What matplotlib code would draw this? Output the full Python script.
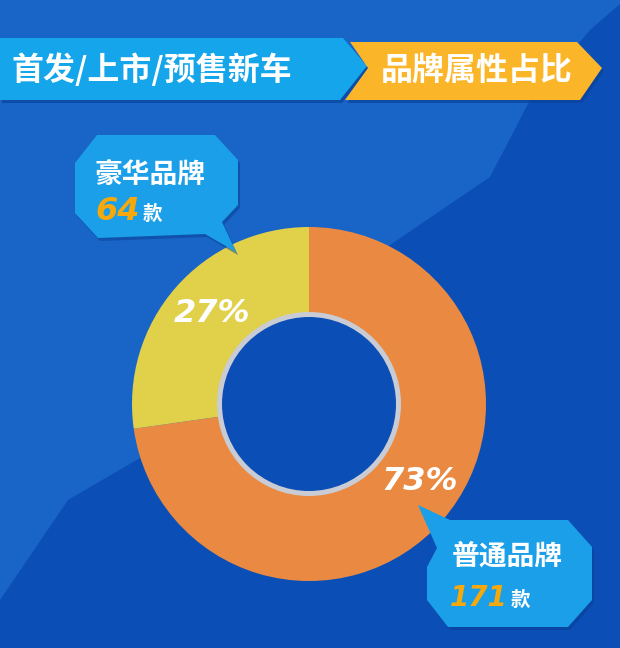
import matplotlib
matplotlib.use("Agg")
import matplotlib.pyplot as plt
from matplotlib.patches import Polygon, Circle

# ---- data ----
categories = ["普通品牌", "豪华品牌"]
counts = [171, 64]
pct_labels = ["73%", "27%"]
title_left = "首发/上市/预售新车"
title_right = "品牌属性占比"
unit = "款"

colors = ["#ea8a42", "#e0d04a"]
CJK = ["Noto Sans CJK SC", "DejaVu Sans"]

fig = plt.figure(figsize=(6.2, 6.48), dpi=100)
fig.patch.set_facecolor("#0b4fb6")
ax = fig.add_axes([0, 0, 1, 1])
ax.set_facecolor("#0b4fb6")

# background lighter region
bg = [(0, 0), (620, 0), (620, 4), (590, 30), (530, 100), (490, 177), (390, 245),
      (250, 340), (140, 458), (68, 500), (0, 600)]
ax.add_patch(Polygon(bg, closed=True, fc="#1964c7", ec="none", zorder=0))

# ---- title banner ----
blue_banner = [(0, 38), (343, 38), (367, 66), (340, 100), (0, 100)]
orange_banner = [(350, 42), (577, 42), (602, 68), (580, 100), (345, 100), (368, 68)]
for poly, fc in [(blue_banner, "#14a5ea"), (orange_banner, "#fbb528")]:
    sh = [(x + 2, y + 3) for x, y in poly]
    ax.add_patch(Polygon(sh, closed=True, fc="#083f93", ec="none", alpha=0.6, zorder=1))
    ax.add_patch(Polygon(poly, closed=True, fc=fc, ec="none", zorder=2))
ax.text(152, 70, title_left, family=CJK, fontsize=23, fontweight="heavy",
        color="white", ha="center", va="center", zorder=3)
ax.text(477, 71, title_right, family=CJK, fontsize=23, fontweight="heavy",
        color="white", ha="center", va="center", zorder=3)

# ---- donut ----
cx, cy, R = 309, 404, 177
ax.pie(counts, colors=colors, startangle=270, counterclock=True,
       center=(cx, cy), radius=R, wedgeprops=dict(linewidth=0), frame=True)
ax.add_patch(Circle((cx, cy), 92, fc="#c9ccd4", ec="none", zorder=5))
ax.add_patch(Circle((cx, cy), 87, fc="#0b4fb6", ec="none", zorder=6))

ax.text(212, 314, pct_labels[1], fontsize=23, fontweight="bold", style="italic",
        color="white", ha="center", va="center", zorder=7)
ax.text(420, 481, pct_labels[0], fontsize=23, fontweight="bold", style="italic",
        color="white", ha="center", va="center", zorder=7)

# ---- callouts ----
call1 = [(97, 135), (215, 135), (238, 160), (238, 205), (222, 222), (236, 252),
         (205, 234), (98, 238), (75, 213), (75, 163)]
call2 = [(418, 505), (450, 520), (568, 520), (592, 547), (592, 600), (568, 627),
         (448, 627), (427, 600), (427, 567), (437, 548)]
for poly in (call1, call2):
    sh = [(x + 2, y + 3) for x, y in poly]
    ax.add_patch(Polygon(sh, closed=True, fc="#083f93", ec="none", alpha=0.5, zorder=8))
    ax.add_patch(Polygon(poly, closed=True, fc="#1b9fe8", ec="none", zorder=9))

ax.text(95, 175, categories[1], family=CJK, fontsize=20, fontweight="heavy",
        color="white", ha="left", va="center", zorder=10)
ax.text(95, 212, str(counts[1]), fontsize=23, fontweight="bold", style="italic",
        color="#f7a90c", ha="left", va="center", zorder=10)
ax.text(143, 214, unit, family=CJK, fontsize=14, fontweight="heavy",
        color="white", ha="left", va="center", zorder=10)

ax.text(452, 557, categories[0], family=CJK, fontsize=20, fontweight="heavy",
        color="white", ha="left", va="center", zorder=10)
ax.text(450, 598, str(counts[0]), fontsize=20, fontweight="bold", style="italic",
        color="#f7a90c", ha="left", va="center", zorder=10)
ax.text(511, 600, unit, family=CJK, fontsize=14, fontweight="heavy",
        color="white", ha="left", va="center", zorder=10)

ax.set_xlim(0, 620)
ax.set_ylim(648, 0)
ax.set_aspect("auto")
ax.axis("off")

fig.savefig("out.png", dpi=100, facecolor=fig.get_facecolor())
